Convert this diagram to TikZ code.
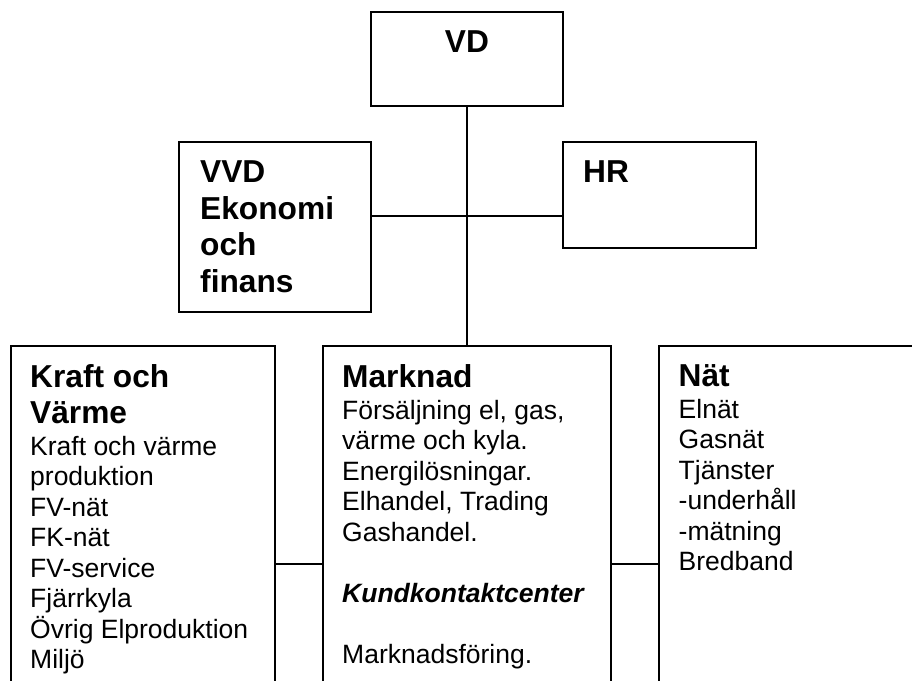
\documentclass[tikz,border=0pt]{standalone}
\usepackage{fontspec}
\setmainfont{Liberation Sans}
\usetikzlibrary{positioning}
\newcommand{\headfont}{\fontsize{31.7}{36.5}\selectfont\bfseries}
\newcommand{\bodyfont}{\fontsize{26.5}{30.5}\selectfont}
\newcommand{\firstline}{\rule{0pt}{.8em}}
\tikzset{
  orgbox/.style={rectangle, draw=black, line width=2pt, inner sep=0pt, outer sep=0pt, anchor=north west},
  headtext/.style={font=\headfont, align=left, inner sep=0pt, anchor=north west},
  bodytext/.style={font=\bodyfont, align=left, inner sep=0pt, anchor=north west},
  link/.style={draw=black, line width=1.3pt}
}

\begin{document}
\begin{tikzpicture}[x=1pt, y=-1pt]
  \clip (0,0) rectangle (912,680);
  % boxes
  \node[orgbox, minimum width=192pt, minimum height=94pt] (vd) at (371,12) {};
  \node[orgbox, minimum width=192pt, minimum height=170pt] (vvd) at (179,142) {};
  \node[orgbox, minimum width=193pt, minimum height=106pt] (hr) at (563,142) {};
  \node[orgbox, minimum width=264pt, minimum height=400pt] (kraft) at (11,346) {};
  \node[orgbox, minimum width=288pt, minimum height=400pt] (marknad) at (323,346) {};
  \node[orgbox, minimum width=300pt, minimum height=400pt] (nat) at (659,346) {};

  % texts
  \node[font=\headfont, inner sep=0pt, anchor=base] (vdtext) at ([shift={(0,40)}]vd.north) {VD};
  \node[headtext] (vvdtext) at ([shift={(21,15.3)}]vvd.north west) {\firstline VVD\\Ekonomi\\och\\finans};
  \node[headtext] (hrtext) at ([shift={(20,15.3)}]hr.north west) {\firstline HR};
  \node[headtext] (krafthead) at ([shift={(19,15.9)}]kraft.north west) {\firstline Kraft och\\Värme};
  \node[bodytext] (kraftbody) at ([shift={(19,87.8)}]kraft.north west)
    {\firstline Kraft och värme\\produktion\\FV-nät\\FK-nät\\FV-service\\Fjärrkyla\\Övrig Elproduktion\\Miljö};
  \node[headtext] (marknadhead) at ([shift={(19,15.6)}]marknad.north west) {\firstline Marknad};
  \node[bodytext] (marknadbody) at ([shift={(19,51.8)}]marknad.north west)
    {\firstline Försäljning el, gas,\\värme och kyla.\\Energilösningar.\\Elhandel, Trading\\Gashandel.\\[30.5pt]
     \textbf{\textit{Kundkontaktcenter}}\\[30.5pt]Marknadsföring.};
  \node[headtext] (nathead) at ([shift={(19.5,15.3)}]nat.north west) {\firstline Nät};
  \node[bodytext] (natbody) at ([shift={(19.5,51)}]nat.north west)
    {\firstline Elnät\\Gasnät\\Tjänster\\-underhåll\\-mätning\\Bredband};

  % connectors
  \coordinate (spine) at (467,216);
  \coordinate (row) at (467,564);
  \draw[link] (vd.south) -- (marknad.north);
  \draw[link] (vvd.east |- spine) -- (hr.west |- spine);
  \draw[link] (kraft.east |- row) -- (marknad.west |- row);
  \draw[link] (marknad.east |- row) -- (nat.west |- row);
\end{tikzpicture}
\end{document}
